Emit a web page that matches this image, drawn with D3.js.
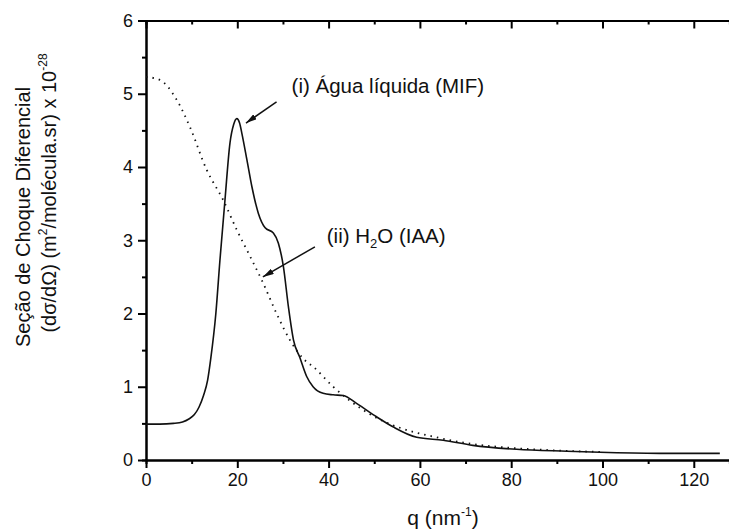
<!DOCTYPE html>
<html>
<head>
<meta charset="utf-8">
<script src="https://cdn.jsdelivr.net/npm/d3@7"></script>
<style>
    body { margin: 0; background: #fff; }
    svg { display: block; font-family: "Liberation Sans", Arial, sans-serif; }
</style>
</head>
<body>
<div id="chart"></div>
<script>
// series (i) Água líquida (MIF), solid line
const mifQ = [0, 3, 6, 8, 9.4, 10.6, 11.6, 12.6, 13.5, 14.2, 15.3, 16.2, 17.3, 18.4, 19.2, 19.9, 20.5, 21, 22.1, 23.2, 24.6, 26.1, 27.9, 29, 30.1, 31.2, 32.3, 33.7, 35.2, 36.6, 38.8, 41, 43.2, 46.2, 50.5, 54.2, 59.3, 65.1, 71.6, 81.2, 92.2, 103.1, 115, 125.7];
const mifV = [0.49, 0.49, 0.50, 0.52, 0.56, 0.62, 0.72, 0.88, 1.09, 1.39, 2.0, 2.73, 3.55, 4.33, 4.58, 4.66, 4.6, 4.46, 4.1, 3.73, 3.37, 3.17, 3.1, 2.96, 2.64, 2.09, 1.64, 1.40, 1.14, 1.0, 0.91, 0.89, 0.88, 0.77, 0.59, 0.45, 0.31, 0.27, 0.20, 0.146, 0.12, 0.10, 0.09, 0.09];

// series (ii) H2O (IAA), dotted line
const iaaQ = [0, 3, 6.7, 9.6, 13.3, 16.9, 19.9, 22.8, 25.7, 28.6, 31.5, 34.5, 36.7, 41, 46.9, 51.3, 55.6, 62.9, 70.2, 81.2, 90, 100];
const iaaV = [5.23, 5.19, 4.92, 4.55, 3.96, 3.55, 3.14, 2.78, 2.41, 2.0, 1.64, 1.38, 1.27, 1.0, 0.71, 0.55, 0.44, 0.32, 0.23, 0.16, 0.13, 0.11];

const xTicks = [0, 20, 40, 60, 80, 100, 120];
const xMinor = [10, 30, 50, 70, 90, 110];
const yTicks = [0, 1, 2, 3, 4, 5, 6];
const yMinor = [0.5, 1.5, 2.5, 3.5, 4.5, 5.5];

// annotations: [tail q, tail v, tip q, tip v]
const arrows = [[28.6, 4.89, 21.9, 4.6], [37.0, 2.91, 25.6, 2.5]];
const labelPos = [[31.9, 5.01], [39.6, 2.96]];

const width = 729, height = 531;
const svg = d3.select('#chart').append('svg')
    .attr('width', width)
    .attr('height', height);

const x = d3.scaleLinear().domain([0, 127.8]).range([146, 729.4]);
const y = d3.scaleLinear().domain([0, 6]).range([460, 20.5]);

function styleAxis(g) {
    g.selectAll('path, line').attr('stroke', '#000').attr('stroke-width', 2);
    g.selectAll('text').attr('fill', '#111').style('font-size', '18px')
        .style('font-family', '"Liberation Sans", Arial, sans-serif');
}

// bottom axis
svg.append('g').attr('transform', `translate(0,${y(0)})`)
    .call(d3.axisBottom(x).tickValues(xTicks).tickSize(8).tickSizeOuter(0).tickPadding(5))
    .call(styleAxis);
svg.append('g').attr('transform', `translate(0,${y(0)})`)
    .call(d3.axisBottom(x).tickValues(xMinor).tickSize(4).tickFormat(''))
    .call(styleAxis);

// top frame, ticks inward
svg.append('g').attr('transform', `translate(0,${y(6)})`)
    .call(d3.axisBottom(x).tickValues(xTicks).tickSize(8).tickSizeOuter(0).tickFormat(''))
    .call(styleAxis);
svg.append('g').attr('transform', `translate(0,${y(6)})`)
    .call(d3.axisBottom(x).tickValues(xMinor).tickSize(4).tickFormat(''))
    .call(styleAxis);

// left axis
svg.append('g').attr('transform', `translate(${x(0)},0)`)
    .call(d3.axisLeft(y).tickValues(yTicks).tickFormat(d3.format('d')).tickSize(8).tickSizeOuter(0).tickPadding(5))
    .call(styleAxis);
svg.append('g').attr('transform', `translate(${x(0)},0)`)
    .call(d3.axisLeft(y).tickValues(yMinor).tickSize(4).tickFormat(''))
    .call(styleAxis);

const line = d3.line()
    .x(d => x(d[0]))
    .y(d => y(d[1]))
    .curve(d3.curveMonotoneX);

svg.append('path')
    .datum(d3.zip(iaaQ, iaaV))
    .attr('fill', 'none')
    .attr('stroke', '#111')
    .attr('stroke-width', 1.8)
    .attr('stroke-dasharray', '1.5,5')
    .attr('d', line);

svg.append('path')
    .datum(d3.zip(mifQ, mifV))
    .attr('fill', 'none')
    .attr('stroke', '#111')
    .attr('stroke-width', 1.6)
    .attr('d', line);

// arrows
svg.append('defs').append('marker')
    .attr('id', 'head')
    .attr('viewBox', '0 0 11 6')
    .attr('refX', 11).attr('refY', 3)
    .attr('markerWidth', 11).attr('markerHeight', 6)
    .attr('markerUnits', 'userSpaceOnUse')
    .attr('orient', 'auto')
    .append('path').attr('d', 'M0,0L11,3L0,6Z').attr('fill', '#111');

svg.selectAll('.arrow')
    .data(arrows)
    .enter().append('line')
    .attr('class', 'arrow')
    .attr('x1', d => x(d[0])).attr('y1', d => y(d[1]))
    .attr('x2', d => x(d[2])).attr('y2', d => y(d[3]))
    .attr('stroke', '#111').attr('stroke-width', 1.5)
    .attr('marker-end', 'url(#head)');

const ann = svg.append('g').attr('fill', '#111').style('font-size', '20.5px');
ann.append('text')
    .attr('x', x(labelPos[0][0])).attr('y', y(labelPos[0][1]))
    .text('(i) Água líquida (MIF)');
const t2 = ann.append('text')
    .attr('x', x(labelPos[1][0])).attr('y', y(labelPos[1][1]));
t2.append('tspan').text('(ii) H');
t2.append('tspan').attr('dy', 5).style('font-size', '13px').text('2');
t2.append('tspan').attr('dy', -5).text('O (IAA)');

// axis titles
const xt = svg.append('text')
    .attr('x', 443).attr('y', 525)
    .attr('text-anchor', 'middle')
    .attr('fill', '#111').style('font-size', '21px');
xt.append('tspan').text('q (nm');
xt.append('tspan').attr('dy', -9).style('font-size', '12px').text('-1');
xt.append('tspan').attr('dy', 9).text(')');

svg.append('text')
    .attr('transform', 'translate(30,217) rotate(-90)')
    .attr('text-anchor', 'middle')
    .attr('fill', '#111').style('font-size', '20px')
    .text('Seção de Choque Diferencial');

const yt = svg.append('text')
    .attr('transform', 'translate(56,193) rotate(-90)')
    .attr('text-anchor', 'middle')
    .attr('fill', '#111').style('font-size', '20px');
yt.append('tspan').text('(dσ/dΩ) (m');
yt.append('tspan').attr('dy', -9).style('font-size', '12px').text('2');
yt.append('tspan').attr('dy', 9).text('/molécula.sr) x 10');
yt.append('tspan').attr('dy', -9).style('font-size', '12px').text('-28');
</script>
</body>
</html>
